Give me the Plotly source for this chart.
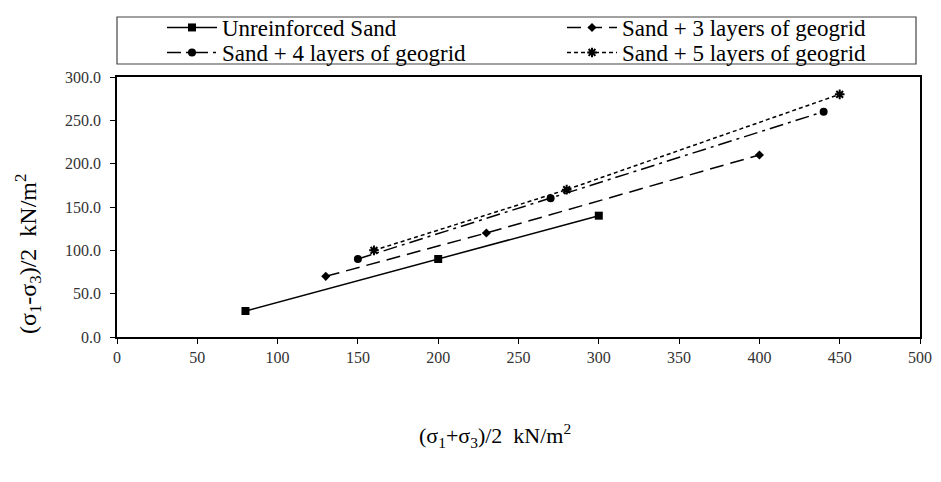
import plotly.graph_objects as go

names = ["Unreinforced Sand", "Sand + 3 layers of geogrid",
         "Sand + 4 layers of geogrid", "Sand + 5 layers of geogrid"]
x_unr = [80, 200, 300]
y_unr = [30, 90, 140]
x_g3 = [130, 230, 400]
y_g3 = [70, 120, 210]
x_g4 = [150, 270, 440]
y_g4 = [90, 160, 260]
x_g5 = [160, 280, 450]
y_g5 = [100, 170, 280]
x_title = "(σ<sub>1</sub>+σ<sub>3</sub>)/2  kN/m<sup>2</sup>"
y_title = "(σ<sub>1</sub>-σ<sub>3</sub>)/2  kN/m<sup>2</sup>"

FONT = "Liberation Serif"
W, H = 941, 482
ML, MR, MT, MB = 117, 21, 77, 145
PW, PH = W - ML - MR, H - MT - MB


def px_x(px):
    return (px - ML) / PW


def px_y(py):
    return 1 + (MT - py) / PH


fig = go.Figure()
fig.add_trace(go.Scatter(x=x_unr, y=y_unr, name=names[0], mode="lines+markers",
                         legend="legend", showlegend=True,
                         line=dict(color="black", width=1.5, dash="solid"),
                         marker=dict(symbol="square", size=8, color="black")))
fig.add_trace(go.Scatter(x=x_g3, y=y_g3, name=names[1], mode="lines+markers",
                         legend="legend2", showlegend=True,
                         line=dict(color="black", width=1.5, dash="14px,7px"),
                         marker=dict(symbol="diamond", size=7, color="black")))
fig.add_trace(go.Scatter(x=x_g4, y=y_g4, name=names[2], mode="lines+markers",
                         legend="legend3", showlegend=True,
                         line=dict(color="black", width=1.5, dash="14px,5px,3px,5px"),
                         marker=dict(symbol="circle", size=8, color="black")))
fig.add_trace(go.Scatter(x=x_g5, y=y_g5, name=names[3], mode="lines+markers",
                         legend="legend4", showlegend=True,
                         line=dict(color="black", width=1.5, dash="4px,3px"),
                         marker=dict(symbol="asterisk-open", size=8, color="black",
                                     line=dict(color="black", width=2))))

leg_common = dict(orientation="v", yanchor="top", xanchor="left",
                  bgcolor="rgba(0,0,0,0)", borderwidth=0,
                  font=dict(family=FONT, size=23, color="black"),
                  traceorder="normal", itemwidth=50, visible=True)

col1, col2 = px_x(162), px_x(562)
row1, row2 = px_y(6), px_y(31)

fig.update_layout(
    width=W, height=H,
    margin=dict(l=ML, r=MR, t=MT, b=MB, autoexpand=False),
    showlegend=True,
    paper_bgcolor="white", plot_bgcolor="white",
    font=dict(family=FONT, color="black"),
    legend=dict(x=col1, y=row1, **leg_common),
    legend2=dict(x=col2, y=row1, **leg_common),
    legend3=dict(x=col1, y=row2, **leg_common),
    legend4=dict(x=col2, y=row2, **leg_common),
    shapes=[dict(type="rect", xref="paper", yref="paper",
                 x0=0, x1=px_x(916), y0=px_y(64), y1=px_y(17),
                 line=dict(color="#444", width=1.2), fillcolor="rgba(0,0,0,0)")],
    annotations=[
        dict(text=x_title, xref="paper", yref="paper", x=px_x(495), y=px_y(435),
             showarrow=False, xanchor="center", yanchor="middle",
             font=dict(family=FONT, size=22, color="black")),
        dict(text=y_title, xref="paper", yref="paper", x=px_x(28), y=px_y(254),
             showarrow=False, xanchor="center", yanchor="middle", textangle=-90,
             font=dict(family=FONT, size=24, color="black")),
    ],
    xaxis=dict(range=[0, 500], dtick=50, tick0=0, showgrid=False,
               showline=True, linecolor="black", linewidth=1.6, mirror=True,
               ticks="outside", ticklen=5, tickcolor="black",
               tickfont=dict(family=FONT, size=16, color="#333"),
               zeroline=False),
    yaxis=dict(range=[0, 300], dtick=50, tick0=0, tickformat=".1f", showgrid=False,
               showline=True, linecolor="black", linewidth=1.6, mirror=True,
               ticks="outside", ticklen=5, tickcolor="black",
               tickfont=dict(family=FONT, size=16, color="#333"),
               ticklabelstandoff=6,
               zeroline=False),
)

fig.write_html("out.html")
